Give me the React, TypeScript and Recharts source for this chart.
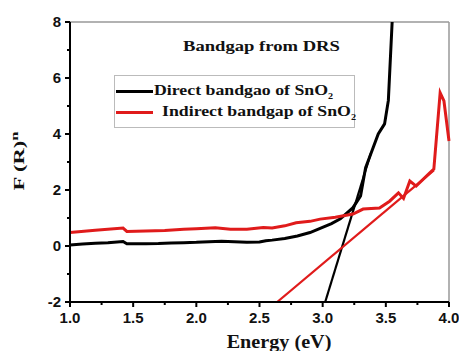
import { LineChart, Line, XAxis, YAxis, ReferenceLine, Legend } from "recharts";

const RED = "#e01b1b";

// direct bandgap curve, (energy, F(R)^n)
const directEnergy = [1.0, 1.1, 1.2, 1.3, 1.42, 1.45, 1.5, 1.6, 1.7, 1.8, 1.9, 2.0, 2.1, 2.2, 2.3, 2.4, 2.5, 2.55, 2.6, 2.7, 2.8, 2.9, 2.98, 3.07, 3.14, 3.24, 3.3, 3.34, 3.38, 3.44, 3.49, 3.52, 3.55];
const directValue = [0.04, 0.07, 0.1, 0.12, 0.16, 0.08, 0.08, 0.08, 0.09, 0.11, 0.12, 0.13, 0.15, 0.17, 0.15, 0.13, 0.14, 0.19, 0.21, 0.27, 0.36, 0.48, 0.63, 0.8, 0.97, 1.37, 1.79, 2.8, 3.28, 4.0, 4.36, 5.2, 8.0];

const indirectEnergy = [1.0, 1.2, 1.42, 1.45, 1.6, 1.75, 1.9, 2.0, 2.15, 2.27, 2.4, 2.53, 2.6, 2.7, 2.79, 2.9, 2.98, 3.1, 3.24, 3.32, 3.45, 3.53, 3.6, 3.64, 3.69, 3.74, 3.85, 3.88, 3.93, 3.96, 4.0];
const indirectValue = [0.48, 0.56, 0.64, 0.52, 0.54, 0.55, 0.6, 0.62, 0.65, 0.6, 0.6, 0.66, 0.64, 0.72, 0.83, 0.88, 0.96, 1.03, 1.14, 1.32, 1.36, 1.6, 1.9, 1.7, 2.32, 2.14, 2.62, 2.75, 5.47, 5.18, 3.75];

// tangent (Tauc) extrapolation lines
const directFitEnergy = [3.02, 3.38];
const directFitValue = [-2, 3.3];
const indirectFitEnergy = [2.64, 3.88];
const indirectFitValue = [-2, 2.7];

const energyTicks = [1, 1.25, 1.5, 1.75, 2, 2.25, 2.5, 2.75, 3, 3.25, 3.5, 3.75, 4];
const valueTicks = [-2, -1, 0, 1, 2, 3, 4, 5, 6, 7, 8];

const zip = (xs: number[], ys: number[]) => xs.map((x, i) => ({ x, y: ys[i] }));

const tickFont = { fontFamily: "'Liberation Sans', Arial, sans-serif", fontWeight: 700, fontSize: 15, fill: "#111" };
const serifBold = "'Liberation Serif', 'Times New Roman', serif";

function XTick({ x, y, payload }: any) {
  const major = Number.isInteger(payload.value * 2);
  return (
    <g>
      <line x1={x} x2={x} y1={y} y2={y + (major ? 5 : 3)} stroke="#000" strokeWidth={2} />
      {major && (
        <text x={x} y={y + 21} textAnchor="middle" {...tickFont}>{payload.value.toFixed(1)}</text>
      )}
    </g>
  );
}

function YTick({ x, y, payload }: any) {
  const major = payload.value % 2 === 0;
  return (
    <g>
      <line x1={x} x2={x - (major ? 5 : 3)} y1={y} y2={y} stroke="#000" strokeWidth={2} />
      {major && (
        <text x={x - 9} y={y + 5} textAnchor="end" {...tickFont}>{payload.value}</text>
      )}
    </g>
  );
}

// the original figure is stretched sideways, so the serif text is widened with scaleX
const wide = (s: number) => ({ display: "inline-block", transform: `scaleX(${s})`, transformOrigin: "left center", whiteSpace: "nowrap" as const });

function LegendBox() {
  const row = (color: string, label: string, pad: number) => (
    <div style={{ display: "flex", alignItems: "center", height: 21 }}>
      <span style={{ display: "inline-block", width: 37, height: 3, background: color, marginRight: pad, flex: "none" }} />
      <span style={wide(1.27)}>{label} of SnO<sub style={{ fontSize: 8 }}>2</sub></span>
    </div>
  );
  return (
    <div style={{ boxSizing: "border-box", border: "1px solid #bbb", background: "#fff", padding: "5px 0 0 1px", fontFamily: serifBold, fontWeight: 700, fontSize: 14, color: "#111", width: 241, height: 53 }}>
      {row("#000", "Direct bandgao", 1)}
      {row(RED, "Indirect bandgap", 9)}
    </div>
  );
}

export default function App() {
  return (
    <div style={{ position: "relative", width: 459, height: 351 }}>
      <style>{"body{margin:0}"}</style>
      <LineChart width={459} height={351} margin={{ top: 22, right: 10, bottom: 19, left: 20 }}>
        <XAxis
          type="number" dataKey="x" domain={[1, 4]} ticks={energyTicks} interval={0}
          height={30} tickSize={0} tickMargin={0} tick={<XTick />}
          axisLine={{ stroke: "#000", strokeWidth: 2 }}
          label={{
            content: () => (
              <text transform="translate(279,348) scale(1.12,1)" textAnchor="middle" fontFamily={serifBold} fontWeight={700} fontSize={18} fill="#111">Energy (eV)</text>
            ),
          }}
        />
        <YAxis
          type="number" domain={[-2, 8]} ticks={valueTicks} interval={0} allowDataOverflow
          width={50} tickSize={0} tickMargin={0} tick={<YTick />}
          axisLine={{ stroke: "#000", strokeWidth: 2 }}
          label={{
            content: () => (
              <text transform="translate(24,161) rotate(-90) scale(1.5,1)" textAnchor="middle" fontFamily={serifBold} fontWeight={700} fontSize={15} fill="#111">
                F (R)<tspan dy={-6} fontSize={11}>n</tspan>
              </text>
            ),
          }}
        />
        <ReferenceLine y={8} stroke="#999" strokeWidth={1.5} />
        <ReferenceLine x={4} stroke="#999" strokeWidth={1.5} />
        <Legend layout="vertical" align="center" verticalAlign="middle" content={<LegendBox />}
          wrapperStyle={{ left: 114, top: 75, width: "auto", height: "auto" }} />
        <Line data={zip(directFitEnergy, directFitValue)} dataKey="y" stroke="#000" strokeWidth={2.2} dot={false} isAnimationActive={false} legendType="none" />
        <Line data={zip(indirectFitEnergy, indirectFitValue)} dataKey="y" stroke={RED} strokeWidth={2.2} dot={false} isAnimationActive={false} legendType="none" />
        <Line data={zip(directEnergy, directValue)} dataKey="y" name="Direct" stroke="#000" strokeWidth={3} dot={false} isAnimationActive={false} />
        <Line data={zip(indirectEnergy, indirectValue)} dataKey="y" name="Indirect" stroke={RED} strokeWidth={3} dot={false} isAnimationActive={false} />
      </LineChart>
      <div style={{ position: "absolute", left: 183, top: 39, fontFamily: serifBold, fontWeight: 700, fontSize: 14, color: "#111", ...wide(1.33) }}>
        Bandgap from DRS
      </div>
    </div>
  );
}
